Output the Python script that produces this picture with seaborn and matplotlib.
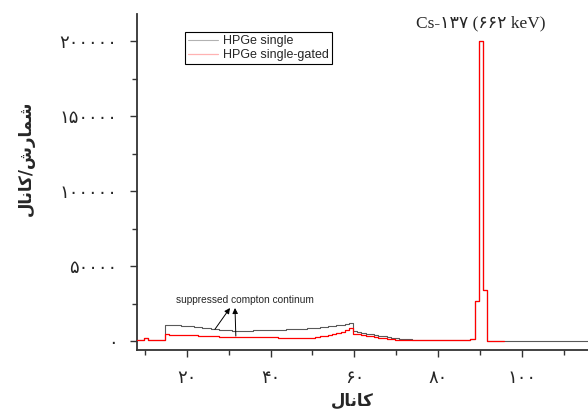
import numpy as np
import pandas as pd
import matplotlib
matplotlib.use('Agg')
import matplotlib.pyplot as plt
from matplotlib.ticker import MultipleLocator
import seaborn as sns

# channel bins (left edge of each 1-channel bin)
channel = np.arange(7.7, 116.7, 1.0)

# HPGe single (black)
single = [500, 500, 2200, 500, 500, 500, 500,
          10700, 10700, 10600, 10400, 10200, 10000, 9800, 9500, 9200, 8900, 8600,
          8300, 8000, 7600, 7300, 7100, 7000, 6900, 6900, 6950, 7000, 7050, 7100,
          7150, 7200, 7300, 7400, 7500, 7600, 7700, 7800, 7900, 8000, 8200, 8400,
          8600, 8900, 9200, 9500, 9800, 10100, 10500, 10900, 11400, 11900,
          6700, 6100, 5500, 5000, 4500, 4000, 3500, 3100, 2700, 2300, 1900, 1600,
          1300, 1100, 900,
          700, 700, 700, 700, 700, 700, 700, 700, 700, 700, 700, 700, 700,
          1200, 27000, 200000, 34000,
          0, 0, 0, 0, 0, 0, 0, 0, 0, 0, 0, 0, 0, 0, 0, 0, 0, 0, 0, 0, 0, 0, 0, 0, 0]

# HPGe single-gated (red); not visible past channel ~96
gated = [500, 500, 2200, 500, 500, 500, 500,
         4400, 4300, 4200, 4100, 4000, 3900, 3800, 3700, 3600, 3500, 3400,
         3300, 3200, 3000, 2800, 2600, 2500, 2400, 2400, 2400, 2400, 2400, 2400,
         2400, 2400, 2400, 2400, 2300, 2200, 2100, 2000, 1900, 1800, 1800, 2000,
         2300, 2700, 3100, 3600, 4100, 4700, 5400, 6200, 7200, 8400,
         5000, 4600, 4100, 3600, 3100, 2600, 2100, 1700, 1300, 1100, 900, 700,
         700, 700, 700,
         700, 700, 700, 700, 700, 700, 700, 700, 700, 700, 700, 700, 700,
         1500, 27000, 200000, 34000,
         0, 0, 0, 0, 0] + [np.nan] * 20

xticks = [20, 40, 60, 80, 100]
xticklabels = ['۲۰', '۴۰', '۶۰', '۸۰', '۱۰۰']
yticks = [0, 50000, 100000, 150000, 200000]
yticklabels = ['۰', '۵۰۰۰۰', '۱۰۰۰۰۰', '۱۵۰۰۰۰', '۲۰۰۰۰۰']

# Persian labels written in shaped presentation forms, visual (left-to-right) order
xlabel = '\uFEDD\uFE8E\uFEE7\uFE8E\uFB90'                      # کانال
ylabel = xlabel + '/' + '\uFEB5\uFEAD\uFE8E\uFEE4\uFEB7'        # شمارش/کانال
title = 'Cs-۱۳۷ (۶۶۲ keV)'

sns.set_style('ticks')
plt.rcParams['font.family'] = ['DejaVu Sans']

fig = plt.figure(figsize=(5.88, 4.13), dpi=100)
ax = fig.add_axes([0.233, 0.1525, 0.767, 0.8135])

df = pd.DataFrame({'channel': channel, 'single': single, 'gated': gated})
sns.lineplot(data=df, x='channel', y='single', ax=ax, drawstyle='steps-post',
             color='black', lw=0.8, alpha=0.65, label='HPGe single')
sns.lineplot(data=df.dropna(), x='channel', y='gated', ax=ax, drawstyle='steps-post',
             color='red', lw=0.9, alpha=1.0, zorder=3, label='HPGe single-gated')

ax.set_xlim(8.1, 115.8)
ax.set_ylim(-6000, 218000)
ax.set_xticks(xticks)
ax.set_xticklabels(xticklabels, fontsize=13)
ax.set_yticks(yticks)
ax.set_yticklabels(yticklabels, fontsize=13)
ax.xaxis.set_minor_locator(MultipleLocator(10))
ax.yaxis.set_minor_locator(MultipleLocator(25000))
ax.tick_params(which='major', direction='out', length=5, width=1, pad=9, color='#333333')
ax.tick_params(which='minor', direction='out', length=3.5, width=1, color='#333333')

ax.set_xlabel(xlabel, fontsize=12, fontweight='bold')
ax.set_ylabel(ylabel, fontsize=12, fontweight='bold')
ax.xaxis.set_label_coords(0.477, -0.125)
ax.yaxis.set_label_coords(-0.226, 0.571)

for s in ['top', 'right']:
    ax.spines[s].set_visible(False)
for s in ['left', 'bottom']:
    ax.spines[s].set_linewidth(1.3)
    ax.spines[s].set_color('#333333')

leg = ax.legend(loc='upper left', bbox_to_anchor=(0.106, 0.946), borderaxespad=0,
                fancybox=False, edgecolor='black', framealpha=1,
                prop={'family': ['Liberation Sans'], 'size': 9},
                handlelength=2.4, handletextpad=0.4, borderpad=0.25, labelspacing=0.15)
leg.get_frame().set_linewidth(0.8)
for h in leg.get_lines():
    h.set_alpha(0.3)

fig.text(0.817, 0.943, title, ha='center', va='center', fontsize=12.5,
         family=['Liberation Serif', 'DejaVu Sans'])

ax.text(17.4, 27300, 'suppressed compton continum', fontsize=7.3, va='center',
        ha='left', family=['Liberation Sans'])
arrow = dict(arrowstyle='-|>', color='black', lw=0.7, mutation_scale=8, shrinkA=0, shrinkB=0)
ax.annotate('', xy=(30.3, 22000), xytext=(26.7, 7800), arrowprops=arrow)
ax.annotate('', xy=(31.5, 22000), xytext=(31.7, 3300), arrowprops=arrow)

fig.savefig('out.png', dpi=100)
